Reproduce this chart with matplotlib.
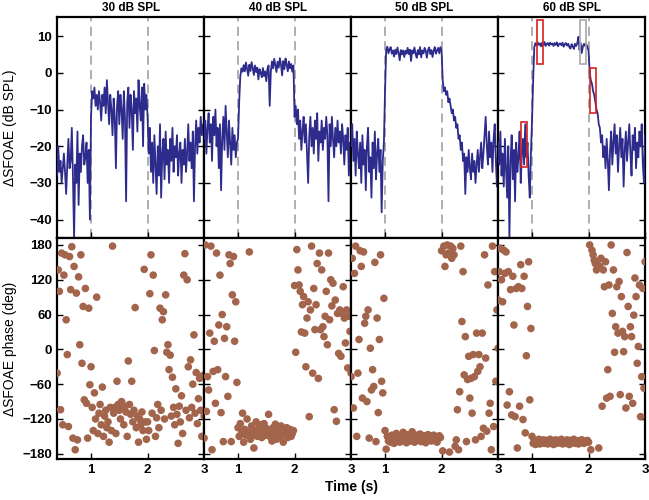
import numpy as np
import matplotlib
matplotlib.use("Agg")
import matplotlib.pyplot as plt
from matplotlib.patches import Rectangle

plt.rcParams['font.family'] = ['Liberation Sans', 'DejaVu Sans']

# time samples (s), shared by every panel
time = np.linspace(0.4, 3.0, 131)

levels = ['30 dB SPL', '40 dB SPL', '50 dB SPL', '60 dB SPL']

# delta SFOAE level (dB SPL)
db30 = [-28, -20, -27, -24, -30, -26, -22, -27, -33, -25, -18, -26, -24, -15, -28,
        -45, -25, -30, -16, -36, -22, -27, -20, -17, -25, -23, -19, -30, -21, -40,
        -12, -5, -7, -4, -9, -6, -10, -5, -8, -13, -6, -9, -4, -11, -2, -8, -14, -6, -10, -17,
        -7, -12, -26, -9, -5, -14, -6, -10, -18, -5, -12, -35, -8, -4, -15, -6, -10, -21, -5, -11,
        -7, -16, -2, -9, -13, -4, -20, -3, -10, -6,
        -12, -22, -15, -27, -19, -30, -17, -25, -33, -20, -28, -14, -34, -22, -18, -29, -16,
        -25, -21, -30, -18, -24, -15, -27, -20, -23, -17, -28, -22, -19, -30, -21, -25, -18,
        -27, -22, -14, -24, -19, -26, -16, -35, -20, -13, -22, -15, -19, -12, -17, -14, -16]
db40 = [-18, -13, -22, -15, -11, -19, -14, -24, -12, -17, -10, -20, -15, -26, -14,
        -32, -18, -12, -21, -9, -16, -23, -13, -19, -25, -15, -21, -17, -23, -19,
        -18, -8, -1, 1.2, 0.3, 2.1, 0.4, 2.8, 1.1, -0.8, 2.2, 0.5, 2.9, 1.3, -0.6, 2.0, 0.2,
        1.4, -1.8, 1.0, 0.1, -1.2, 1.3, -0.9, 0.4, -2.3, 1.1, 2.0, -9, 0.3, 3.1, 1.2, 3.8, 2.1,
        0.2, 3.0, 1.4, 4.0, 2.2, -0.7, 3.2, 1.0, 3.9, 2.3, 0.4, 3.1, 1.2, 2.4, 0.3, 2.0,
        -12, -9, -14, -10, -18, -13, -21, -16, -12, -19, -14, -22, -30, -17, -12, -20, -15,
        -22, -13, -18, -11, -24, -16, -19, -13, -21, -15, -18, -12, -17, -35, -14, -20, -12,
        -18, -23, -15, -20, -13, -19, -16, -22, -14, -18, -25, -17, -21, -15, -28, -19, -24]
db50 = [-20, -14, -24, -18, -28, -16, -22, -26, -19, -30, -17, -25, -21, -32, -20,
        -15, -27, -23, -34, -19, -26, -16, -29, -22, -18, -27, -21, -38, -24, -19,
        -5, 6.2, 7.1, 5.3, 6.4, 7.0, 5.2, 6.1, 4.4, 6.3, 5.1, 6.9, 5.4, 3.4, 6.2, 5.0, 6.1,
        4.3, 6.0, 5.2, 6.8, 5.1, 6.3, 3.2, 6.1, 5.3, 6.9, 5.2, 4.1, 6.2, 5.0, 7.0, 4.2, 6.1,
        5.3, 6.8, 6.0, 4.1, 6.2, 6.9, 5.1, 6.2, 4.3, 6.0, 7.0, 5.2, 6.1, 6.8, 5.3, 7.0,
        6, -2, -5, -4, -6, -5, -8, -7, -9, -11, -10, -13, -12, -15, -14, -18, -17,
        -21, -19, -24, -22, -33, -23, -27, -21, -26, -29, -22, -27, -24, -30, -25, -21, -27,
        -23, -19, -26, -22, -17, -12, -20, -25, -16, -23, -19, -27, -18, -14, -24, -31, -20]
db60 = [-19, -25, -16, -28, -22, -31, -18, -26, -34, -20, -45, -24, -17, -29, -21,
        -35, -19, -27, -23, -16, -30, -22, -18, -25, -14, -23, -19, -28, -34, -22,
        -13, -2, 7.0, 8.1, 7.4, 8.3, 7.6, 8.0, 7.2, 8.2, 7.5, 8.4, 7.3, 7.9, 8.1, 7.4, 8.2,
        7.7, 8.0, 7.3, 8.1, 7.6, 8.3, 7.2, 7.9, 8.0, 7.5, 8.2, 7.1, 7.8, 8.1, 7.4, 7.9, 7.0,
        6.6, 7.8, 7.2, 6.5, 7.9, 7.3, 8.0, 9.8, 6.2, 8.1, 5.4, 7.2, 7.9, 7.3, 7.8, 7.1,
        6, 0, -2, -3, -5, -6, -8, -10, -11, -14, -15, -19, -17, -23, -20, -26, -18,
        -24, -32, -21, -16, -25, -19, -14, -22, -17, -27, -20, -15, -23, -18, -31, -21, -16,
        -24, -19, -14, -22, -28, -17, -21, -15, -26, -19, -23, -16, -20, -14, -25, -30, -17]

# delta SFOAE phase (deg)
ph30 = [-41, 137, 100, -104, 166, -130, 128, 163, 51, -9, -133, 160, 103, 177, -153,
        143, -173, 97, -156, 125, 8, 163, -24, 74, -87, 105, -93, -153, 71, -61,
        -30, -100, -140, -75, -120, 90, -145, -110, -95, -130, -65, -150, -115, -105, -135,
        -125, -160, -100, -140, 178, -110, -100, -145, -55, -95, -105, -120, -90, -100, -130,
        -98, -108, -150, -20, -95, -112, -55, -125, -105, 72, -135, -115, -160, -120, -130,
        -108, -140, 138, -125, -155,
        -125, -140, 96, 163, -110, 128, -2, -150, -118, -95, -135, 71, -105, 51, 65, -120,
        94, -5, 8, -35, -10, -115, -48, -100, -130, -68, -112, -162, -98, -125, -80, -145,
        128, 165, -105, 120, -30, -118, -18, -100, -60, 25, -110, -40, -128, -85, -50, -105,
        -150, -45, -115]
ph40 = [-153, 180, -107, -47, -70, 28, 178, -173, -38, 14, -93, 166, -35, 42, 128,
        -109, 60, -159, 19, -47, 39, -81, 163, 148, -159, 94, 160, 14, 82, -57,
        -135, -150, -128, -145, -110, -160, -138, -148, -120, -142, 168, -155, -132, -147, -170,
        -140, -125, -150, -137, -145, -130, -152, -141, -128, -148, -136, -145, -112, -150, -140,
        -158, -135, -147, -129, -155, -142, -138, -150, -132, -145, -160, -140, -148, -135, -152,
        -143, -138, -150, -145, -140,
        110, -5, 172, 137, 111, 100, 30, 77, 91, 28, -30, 54, 82, -116, 68, 178, -41, 105,
        34, 77, 148, -50, 166, 34, 137, 39, 22, 57, 100, 8, 166, 51, 120, 75, 114, -104, 85,
        -124, 62, -7, 68, -12, 62, 108, 54, 11, 68, -32, 57, 31, -41]
ph50 = [-47, 157, -101, 131, 178, -150, -41, 17, 170, 143, -84, 168, 45, 57, -90,
        68, -153, 2, -70, -35, -64, 150, -159, 54, -109, 17, 163, -55, -75, 88,
        -140, -172, -150, -158, -152, -160, -148, -155, -162, -150, -145, -157, -153, -160, -149,
        -156, -143, -158, -152, -161, -147, -155, -150, -158, -142, -154, -160, -151, -148, -157,
        -153, -146, -159, -152, -155, -149, -161, -154, -147, -156, -150, -158, -153, -148, -157,
        -151, -160, -154, -149, -152,
        170, -175, 178, 143, 163, 180, 166, -177, 178, 157, 174, 163, -167, -156, -104, -173,
        -73, 178, 48, 134, -44, 22, -159, -52, -12, -84, -50, -110, -9, -47, -156, 28, -38,
        -9, -30, -150, 28, -136, 163, -15, -141, 111, -110, -93, -173, 178, -133, 134, -55,
        68, 2]
ph60 = [85, 134, 174, 120, 82, 171, 131, 168, -96, 134, -73, 103, -113, 126, 42,
        -116, 105, -170, 108, -98, 146, 105, -121, 126, -144, -11, 74, 151, -87, 36,
        -150, -162, -157, -164, -159, -161, -155, -163, -158, -160, -156, -162, -159, -157, -163,
        -160, -155, -161, -158, -164, -159, -156, -162, -160, -157, -161, -155, -163, -159, -158,
        -162, -156, -160, -164, -157, -161, -159, -155, -162, -158, -160, -163, -157, -161, -156,
        -159, -162, -158, -160, -157,
        -160, 180, -173, 171, 163, 154, 148, 137, 146, -170, 143, 157, -98, 137, 108, 151,
        -84, -35, 111, -81, 180, 62, 137, -5, 39, 108, 28, 117, -78, 91, 31, -4, 22, -101,
        167, 74, -81, 39, 22, -93, 59, 123, 91, -24, 5, 111, -116, -47, 105, -67, 151]

level_series = [db30, db40, db50, db60]
phase_series = [ph30, ph40, ph50, ph60]

# boxes marked on the 60 dB panel: (t0, dB0, width, height)
red_boxes = [(0.81, -25.6, 0.107, 12.2), (1.08, 2.4, 0.11, 12.1), (2.02, -11.0, 0.11, 12.2)]
gray_boxes = [(1.855, 2.4, 0.105, 12.1)]

line_col = '#2d2b8c'
dot_col = '#a3644c'

fig = plt.figure(figsize=(6.49, 5.0), dpi=100)
left = 0.088
pw = 0.2265


def style(ax):
    for sp in ax.spines.values():
        sp.set_linewidth(1.6)
    ax.tick_params(direction='in', length=4, width=1, right=True, labelsize=9.5)
    for lab in ax.get_xticklabels() + ax.get_yticklabels():
        lab.set_fontweight('bold')


for i in range(4):
    ax = fig.add_axes([left + i * pw, 0.524, pw, 0.442])
    ax.plot(time, level_series[i], color=line_col, lw=1.3, zorder=3)
    for xv in [1, 2]:
        ax.axvline(xv, color='#a8a8a8', ls=(0, (5, 3)), lw=1.3, zorder=1)
    ax.set_xlim(0.4, 3.0)
    ax.set_ylim(-45, 15.2)
    ax.set_xticks([1, 2, 3])
    ax.set_xticklabels([])
    ax.set_yticks([10, 0, -10, -20, -30, -40])
    ax.set_title(levels[i], fontsize=8.5, fontweight='bold', pad=4)
    if i == 0:
        ax.set_ylabel('ΔSFOAE (dB SPL)', fontsize=10)
        ax.yaxis.set_label_coords(-0.27, 0.5)
    else:
        ax.set_yticklabels([])
    if i == 3:
        for (bx, by, bw, bh) in red_boxes:
            ax.add_patch(Rectangle((bx, by), bw, bh, fill=False, edgecolor='#d42323', lw=1.2, zorder=4))
        for (bx, by, bw, bh) in gray_boxes:
            ax.add_patch(Rectangle((bx, by), bw, bh, fill=False, edgecolor='#a8a8a8', lw=1.2, zorder=4))
    style(ax)

    ax2 = fig.add_axes([left + i * pw, 0.082, pw, 0.442])
    ax2.scatter(time, phase_series[i], s=30, color=dot_col, edgecolors='none', zorder=3)
    ax2.set_xlim(0.4, 3.0)
    ax2.set_ylim(-189, 192)
    ax2.set_xticks([1, 2, 3])
    ax2.set_yticks([180, 120, 60, 0, -60, -120, -180])
    if i == 0:
        ax2.set_ylabel('ΔSFOAE phase (deg)', fontsize=10)
        ax2.yaxis.set_label_coords(-0.27, 0.5)
    else:
        ax2.set_yticklabels([])
    style(ax2)

fig.text(0.541, 0.026, 'Time (s)', ha='center', va='center', fontsize=10, fontweight='bold')

fig.savefig('out.png', dpi=100)
